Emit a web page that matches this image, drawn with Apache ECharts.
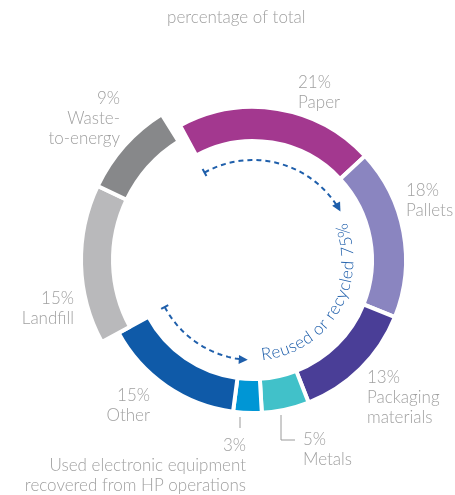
<!DOCTYPE html>
<html>
<head>
<meta charset="utf-8">
<script src="https://cdn.jsdelivr.net/npm/echarts@6/dist/echarts.min.js"></script>
<style>
html, body { margin: 0; padding: 0; background: #fff; }
#chart { width: 455px; height: 495px; }
</style>
</head>
<body>
<div id="chart"></div>
<script>
// data
const categories = ['Paper', 'Pallets', 'Packaging\nmaterials', 'Metals',
  'Used electronic equipment\nrecovered from HP operations', 'Other', 'Landfill', 'Waste-\nto-energy']
const shares = [21, 18, 13, 5, 3, 15, 15, 9]
const reused = [true, true, true, true, true, true, false, false]
const colors = ['#a3388f', '#8a85c0', '#4a3e97', '#41c1c9', '#0096d5', '#0f5aa8', '#b9b9bb', '#87888a']
const reusedText = 'Reused or recycled 75%'

// label placement (x, top, align)
const labelAnchors = [
  [298, 73, 'left'], [406, 181, 'left'], [367, 368, 'left'], [303, 430, 'left'],
  [246, 436, 'right'], [150, 386, 'right'], [74, 289, 'right'], [120, 89, 'right']
]
const leaderLines = [
  [[281, 415], [281, 440], [295, 440]],
  [[240, 417], [240, 428]]
]

const CX = 253, CY = 260
const textColor = '#a0a0a0'
const blue = '#1f5fab'
const fontFamily = 'Lato'

let chartInstance = echarts.init(document.getElementById('chart'))

const remainder = 100 - shares.reduce((a, b) => a + b, 0)
const hidden = { color: 'rgba(0,0,0,0)', borderWidth: 0 }

const buildData = (ring) => {
  const arr = categories.map((name, i) => {
    const onRing = ring === 'main' ? reused[i] : !reused[i]
    return {
      name: name,
      value: shares[i],
      itemStyle: onRing ? { color: colors[i] } : hidden,
      label: { show: onRing }
    }
  })
  arr.push({ name: 'gap', value: remainder, itemStyle: hidden, label: { show: false } })
  return arr
}

const labelLayout = (params) => {
  const a = labelAnchors[params.dataIndex]
  if (!a) return {}
  return { x: a[0], y: a[1], align: a[2], verticalAlign: 'top' }
}

const baseSeries = {
  type: 'pie',
  center: [CX, CY],
  startAngle: 118.5,
  clockwise: true,
  avoidLabelOverlap: false,
  silent: true,
  emphasis: { disabled: true },
  itemStyle: { borderColor: '#fff', borderWidth: 4 },
  labelLine: { show: false },
  label: {
    show: true,
    position: 'outside',
    formatter: p => p.value + '%\n' + p.name,
    color: textColor,
    fontFamily: fontFamily,
    fontWeight: 300,
    fontSize: 17,
    lineHeight: 20
  },
  labelLayout: labelLayout
}

// curved annotation inside the ring
const graphics = []
const pt = (deg, r) => [CX + r * Math.cos(deg * Math.PI / 180), CY - r * Math.sin(deg * Math.PI / 180)]

const dashedArrow = (from, to, r) => {
  const pts = []
  const steps = 40
  const dir = to > from ? 1 : -1
  const end = to - dir * 3
  for (let k = 0; k <= steps; k++) pts.push(pt(from + (end - from) * k / steps, r))
  graphics.push({ type: 'polyline', shape: { points: pts }, style: { stroke: blue, lineWidth: 2, lineDash: [5, 4], fill: null } })
  // start tick
  graphics.push({ type: 'line', shape: { x1: pt(from, r - 4)[0], y1: pt(from, r - 4)[1], x2: pt(from, r + 4)[0], y2: pt(from, r + 4)[1] }, style: { stroke: blue, lineWidth: 2 } })
  // arrow head
  const t = to * Math.PI / 180
  const tip = pt(to, r)
  const d = dir > 0 ? [-Math.sin(t), -Math.cos(t)] : [Math.sin(t), Math.cos(t)]
  const n = [-d[1], d[0]]
  const base = [tip[0] - d[0] * 9, tip[1] - d[1] * 9]
  graphics.push({
    type: 'polygon',
    shape: { points: [tip, [base[0] + n[0] * 4.5, base[1] + n[1] * 4.5], [base[0] - n[0] * 4.5, base[1] - n[1] * 4.5]] },
    style: { fill: blue }
  })
}
dashedArrow(119, 29, 100)
dashedArrow(208, 267, 100)

const ctx = document.createElement('canvas').getContext('2d')
const curveFont = '300 17px ' + fontFamily
ctx.font = curveFont
let theta = -85
const textR = 95
for (const ch of reusedText) {
  const w = ctx.measureText(ch).width
  const mid = theta + (w / 2) / textR * 180 / Math.PI
  const p = pt(mid, textR)
  graphics.push({
    type: 'text',
    x: p[0], y: p[1],
    rotation: (mid + 90) * Math.PI / 180,
    style: { text: ch, fill: blue, font: curveFont, align: 'center', verticalAlign: 'middle' }
  })
  theta += w / textR * 180 / Math.PI
}

leaderLines.forEach(line => {
  graphics.push({ type: 'polyline', shape: { points: line }, style: { stroke: '#9a9a9a', lineWidth: 1, fill: null } })
})

const option = {
  animation: false,
  title: {
    text: 'percentage of total',
    left: 162,
    top: 4,
    textStyle: { color: textColor, fontFamily: fontFamily, fontWeight: 300, fontSize: 17 }
  },
  graphic: graphics,
  series: [
    Object.assign({}, baseSeries, { name: 'main', radius: [119, 153], data: buildData('main') }),
    Object.assign({}, baseSeries, { name: 'outer', radius: [140, 172], data: buildData('outer') })
  ]
}
chartInstance.setOption(option)
</script>
</body>
</html>
